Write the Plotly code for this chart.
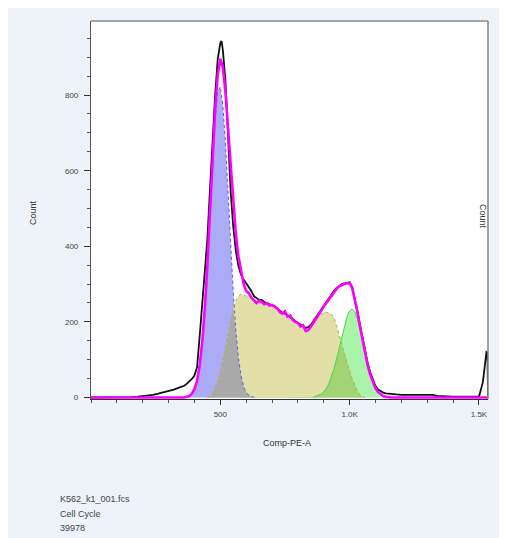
import numpy as np
import plotly.graph_objects as go

# ---------------- data ----------------
# common channel bins for the model components (Comp-PE-A units)
component_bins = list(range(370, 1170, 10))

# G1 component (blue), starting at channel 370, step 10
g1_start = 370
g1_counts = [2, 4, 10, 22, 44, 84, 146, 235, 351, 486,
             622, 737, 808, 822, 772, 672, 541, 404, 279, 178,
             105, 58, 29, 14, 6, 2, 1]

# S component (yellow), starting at channel 450, step 10
s_start = 450
s_counts = [0, 4, 12, 25, 45, 70, 100, 135, 170, 205,
            235, 255, 268, 274, 272, 268, 270, 262, 255, 250,
            256, 253, 247, 250, 243, 245, 240, 236, 226, 222,
            228, 214, 217, 205, 200, 197, 188, 191, 176, 178,
            186, 196, 206, 212, 220, 226, 226, 224, 220, 210,
            190, 165, 140, 115, 92, 70, 50, 32, 17, 7,
            2, 0]

# G2 component (green), starting at channel 860, step 10
g2_start = 860
g2_counts = [1, 3, 5, 9, 15, 24, 37, 55, 77, 104,
             133, 163, 191, 214, 229, 234, 227, 208, 180, 146,
             112, 82, 58, 38, 24, 14, 8, 4, 2, 1, 0]

# total model fit (magenta)
fit_channel = [0, 360] + list(range(370, 1170, 10)) + [1535]
fit_counts = [0, 0,
              2, 4, 10, 22, 44, 84, 146, 235, 351, 490,
              634, 762, 853, 896, 872, 807, 711, 609, 514, 433,
              373, 332, 301, 282, 276, 264, 258, 250, 256, 253,
              247, 250, 243, 245, 240, 236, 226, 222, 228, 214,
              217, 205, 200, 197, 188, 191, 176, 178, 187, 197,
              209, 217, 229, 241, 250, 261, 270, 280, 288, 294,
              298, 300, 302, 302, 290, 262, 226, 188, 150, 114,
              84, 60, 39, 24, 14, 8, 4, 2, 1, 0,
              0]

# raw histogram (black)
raw_channel = [0, 150, 160, 180, 200, 220, 240, 260, 280, 300,
               320, 340, 360, 370, 380, 390, 400, 410, 420, 430,
               440, 450, 460, 470, 480, 490, 500, 505, 510, 520,
               530, 540, 550, 560, 570, 580, 590, 600, 610, 620,
               630, 640, 650, 660, 670, 680, 690, 700, 710, 720,
               730, 740, 750, 760, 770, 780, 790, 800, 810, 820,
               830, 840, 850, 860, 870, 880, 890, 900, 910, 920,
               930, 940, 950, 960, 970, 980, 990, 1000, 1010, 1020,
               1030, 1040, 1050, 1060, 1070, 1080, 1090, 1100, 1110, 1120,
               1130, 1140, 1160, 1180, 1200, 1220, 1240, 1260, 1280, 1300,
               1320, 1340, 1360, 1400, 1450, 1500, 1515, 1529, 1533, 1535]
raw_counts = [0, 0, 1, 2, 3, 5, 7, 10, 13, 17,
              21, 26, 31, 36, 42, 49, 58, 80, 160, 240,
              320, 420, 550, 680, 800, 895, 938, 943, 918, 835,
              700, 545, 452, 388, 348, 325, 312, 302, 292, 282,
              268, 262, 258, 258, 252, 250, 246, 244, 242, 236,
              230, 224, 222, 218, 214, 208, 202, 198, 192, 188,
              184, 186, 192, 202, 212, 222, 232, 244, 254, 264,
              274, 282, 290, 296, 300, 302, 304, 305, 292, 264,
              228, 192, 156, 120, 90, 66, 46, 30, 21, 16,
              13, 11, 9, 8, 7, 7, 9, 8, 7, 7,
              7, 4, 3, 2, 2, 2, 40, 120, 118, 0]

x_tick_values = [500, 1000, 1500]
x_tick_labels = ["500", "1.0K", "1.5K"]
y_tick_values = [0, 200, 400, 600, 800]
y_tick_labels = ["0", "200", "400", "600", "800"]

x_title = "Comp-PE-A"
y_title = "Count"
info_lines = ["K562_k1_001.fcs", "Cell Cycle", "39978"]

assert len(fit_channel) == len(fit_counts)
assert len(raw_channel) == len(raw_counts)

# ---------------- build ----------------
bins = np.array(component_bins, dtype=float)


def on_grid(start, counts):
    arr = np.zeros(len(bins))
    i = int(round((start - component_bins[0]) / 10))
    arr[i:i + len(counts)] = counts
    return arr


g1 = on_grid(g1_start, g1_counts)
s = on_grid(s_start, s_counts)
g2 = on_grid(g2_start, g2_counts)
ov_g1_s = np.minimum(g1, s)
ov_s_g2 = np.minimum(s, g2)

FONT = "Liberation Sans, Arial, sans-serif"
fig = go.Figure()


def fill_trace(y, color):
    fig.add_trace(go.Scatter(x=bins, y=y, mode="lines", fill="tozeroy",
                             fillcolor=color, line=dict(width=0, color=color),
                             hoverinfo="skip", showlegend=False))


fill_trace(g1, "#ABABF8")
fill_trace(s, "#E2DFA8")
fill_trace(g2, "#A9F4A9")
fill_trace(ov_g1_s, "#A9A9A9")
fill_trace(ov_s_g2, "#A3D474")


def outline(start, counts, color, dash):
    xs = [start + 10 * k for k in range(len(counts))]
    fig.add_trace(go.Scatter(x=xs, y=counts, mode="lines",
                             line=dict(width=1, color=color, dash=dash),
                             hoverinfo="skip", showlegend=False))


outline(g1_start, g1_counts, "#5A5AE6", "dot")
outline(s_start, s_counts, "#B3AC4A", "dot")
outline(g2_start, g2_counts, "#4CD44C", "solid")

fig.add_trace(go.Scatter(x=raw_channel, y=raw_counts, mode="lines",
                         line=dict(width=1.8, color="#111111"),
                         showlegend=False))
fig.add_trace(go.Scatter(x=fit_channel, y=fit_counts, mode="lines",
                         line=dict(width=2.6, color="#FF00FF"),
                         showlegend=False))

# The page body has an 8px margin, so window pixel = figure pixel + 8.
OFF = 8
W, H = 507, 538
ML, MR, MT, MB = 83, 27, 13, 147
PW, PH = W - ML - MR, H - MT - MB


def px2paper_x(px):
    return (px - OFF - ML) / PW


def px2paper_y(py):
    return (H - MB - (py - OFF)) / PH


tickfont = dict(family=FONT, size=8, color="#444444")

fig.update_layout(
    width=W, height=H, autosize=False,
    margin=dict(l=ML, r=MR, t=MT, b=MB, pad=0),
    paper_bgcolor="#EEF2F9",
    plot_bgcolor="#FFFFFF",
    showlegend=False,
    xaxis=dict(range=[0, 1535], showgrid=False, zeroline=False,
               showline=True, linecolor="#333333", linewidth=1.2,
               ticks="outside", ticklen=5, tickwidth=1.3, tickcolor="#333333",
               tickvals=x_tick_values, ticktext=x_tick_labels,
               tickfont=tickfont, ticklabelstandoff=2,
               minor=dict(dtick=100, tick0=0, ticks="outside", ticklen=3,
                          tickwidth=1, tickcolor="#555555", showgrid=False)),
    yaxis=dict(range=[-4, 996], showgrid=False, zeroline=False,
               showline=True, linecolor="#555555", linewidth=1.2,
               ticks="outside", ticklen=6, tickwidth=1.3, tickcolor="#333333",
               tickvals=y_tick_values, ticktext=y_tick_labels,
               tickfont=tickfont, ticklabelstandoff=4,
               minor=dict(dtick=50, tick0=0, ticks="outside", ticklen=3,
                          tickwidth=1, tickcolor="#555555", showgrid=False)),
    shapes=[
        dict(type="line", xref="paper", yref="paper", x0=0, x1=1, y0=1, y1=1,
             line=dict(color="#8A8A8A", width=1.6)),
        dict(type="line", xref="paper", yref="paper", x0=1, x1=1, y0=0, y1=1,
             line=dict(color="#8A8A8A", width=1.6)),
    ],
)

annots = [
    dict(text=x_title, x=px2paper_x(287), y=px2paper_y(443), xanchor="center", yanchor="middle",
         font=dict(family=FONT, size=9, color="#333333")),
    dict(text=y_title, x=px2paper_x(33), y=px2paper_y(213), xanchor="center", yanchor="middle",
         textangle=-90, font=dict(family=FONT, size=9, color="#333333")),
    dict(text=y_title, x=px2paper_x(483), y=px2paper_y(216), xanchor="center", yanchor="middle",
         textangle=90, font=dict(family=FONT, size=9, color="#333333")),
]
for line_text, py in zip(info_lines, [499, 514, 528]):
    annots.append(dict(text=line_text, x=px2paper_x(58), y=px2paper_y(py),
                       xanchor="left", yanchor="middle",
                       font=dict(family=FONT, size=9, color="#444444")))
for a in annots:
    a.update(xref="paper", yref="paper", showarrow=False)
fig.update_layout(annotations=annots)

# hide page scrollbars so the panel reaches the window edges
fig.write_html("out.html",
               post_script="document.documentElement.style.overflow='hidden';"
                           "document.body.style.overflow='hidden';")
